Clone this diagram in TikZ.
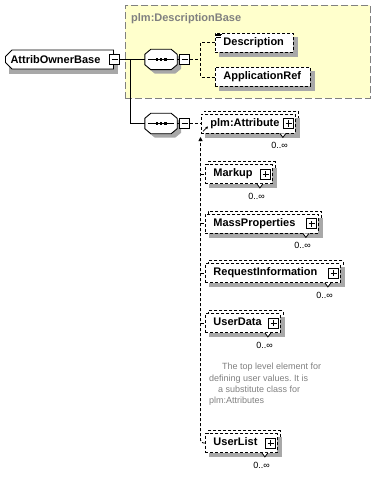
\documentclass[tikz,border=0pt]{standalone}
\usepackage{fontspec}
\setmainfont{Liberation Sans}
\usetikzlibrary{positioning,shapes.misc,arrows.meta}

\definecolor{groupfill}{RGB}{255,255,204}
\definecolor{groupline}{RGB}{128,128,128}
\definecolor{boxshade}{RGB}{168,168,168}
\definecolor{doctext}{RGB}{128,128,128}

\tikzset{
  conn/.style={line width=0.9pt},
  dconn/.style={line width=0.9pt, dash pattern=on 3pt off 2pt},
  elemgeom/.style={line width=0.9pt, inner xsep=8pt, inner ysep=0pt, minimum height=19pt,
    text height=8pt, text depth=2.5pt, align=left, anchor=west},
  elem/.style={elemgeom, draw, dash pattern=on 3pt off 2pt, fill=white, font=\fontsize{11}{13}\selectfont\bfseries},
  elemcopy/.style={elemgeom, draw, dash pattern=on 3pt off 2pt, fill=white, xshift=3pt, yshift=3pt},
  elemshade/.style={elemgeom, draw=boxshade, fill=boxshade, xshift=4pt, yshift=-4pt},
  owner/.style={chamfered rectangle, chamfered rectangle corners={north west,south west},
    chamfered rectangle xsep=3pt, draw, line width=0.9pt, fill=white,
    font=\fontsize{11}{13}\selectfont\bfseries, minimum width=108pt, minimum height=19pt,
    inner sep=0pt, anchor=west},
  ownershade/.style={owner, draw=boxshade, fill=boxshade, xshift=4pt, yshift=-4pt},
  seq/.style={minimum width=32pt, minimum height=20pt, inner sep=0pt},
  pmbox/.style={draw, solid, line width=0.8pt, fill=white, minimum width=10pt, minimum height=10pt, inner sep=0pt},
  minusbox/.style={pmbox, path picture={
      \draw[line width=0.8pt] ([xshift=2pt]path picture bounding box.west) -- ([xshift=-2pt]path picture bounding box.east);}},
  plusbox/.style={pmbox, path picture={
      \draw[line width=0.8pt] ([xshift=2pt]path picture bounding box.west) -- ([xshift=-2pt]path picture bounding box.east)
        ([yshift=2pt]path picture bounding box.south) -- ([yshift=-2pt]path picture bounding box.north);}},
  notch/.style={line width=0.8pt, fill=white},
  mult/.style={font=\fontsize{9}{11}\selectfont, inner sep=0pt},
  groupbox/.style={draw=groupline, fill=groupfill, dash pattern=on 7pt off 3pt, line width=0.9pt, inner sep=0pt},
  grouplabel/.style={font=\fontsize{11}{13}\selectfont\bfseries, text=groupline, inner sep=0pt},
  doc/.style={font=\fontsize{9}{11.3}\selectfont\frenchspacing, text=doctext, align=left, inner sep=0pt}
}

% element box with its shadow: name, position, text width, text
\newcommand{\elembox}[4]{%
  \node[elemshade, text width=#3] (#1-shade) at (#2) {};
  \node[elem, text width=#3] (#1) at (#2) {#4};
}
% repeated element box, with a copy behind it
\newcommand{\multibox}[4]{%
  \node[elemcopy, text width=#3] (#1-copy) at (#2) {};
  \node[elemshade, text width=#3] (#1-shade) at (#2) {};
  \node[elem, text width=#3] (#1) at (#2) {#4};
}
% octagon with the sequence symbol, drawn round a named node
\newcommand{\seqshape}[1]{%
  \fill[boxshade] ([xshift=4pt,yshift=-9pt]#1.north west) -- ([xshift=10pt,yshift=-4pt]#1.north west)
    -- ([xshift=-2pt,yshift=-4pt]#1.north east) -- ([xshift=4pt,yshift=-9pt]#1.north east) -- ([xshift=4pt,yshift=1pt]#1.south east)
    -- ([xshift=-2pt,yshift=-4pt]#1.south east) -- ([xshift=10pt,yshift=-4pt]#1.south west) -- ([xshift=4pt,yshift=1pt]#1.south west) -- cycle;
  \draw[conn, fill=white] ([yshift=-5pt]#1.north west) -- ([xshift=6pt]#1.north west)
    -- ([xshift=-6pt]#1.north east) -- ([yshift=-5pt]#1.north east) -- ([yshift=5pt]#1.south east)
    -- ([xshift=-6pt]#1.south east) -- ([xshift=6pt]#1.south west) -- ([yshift=5pt]#1.south west) -- cycle;
  \draw[conn] ([xshift=3pt]#1.west) -- ([xshift=-3pt]#1.east);
  \fill ([xshift=-5.5pt,yshift=-1.5pt]#1.center) rectangle ++(2.5pt,3pt);
  \fill ([xshift=-1.25pt,yshift=-1.5pt]#1.center) rectangle ++(2.5pt,3pt);
  \fill ([xshift=3pt,yshift=-1.5pt]#1.center) rectangle ++(2.5pt,3pt);
}

\begin{document}
\begin{tikzpicture}[x=1pt,y=-1pt]
    \useasboundingbox (0,0) rectangle (371,484);

    % Group of plm:DescriptionBase
    \node[groupbox, anchor=north west, minimum width=245pt, minimum height=93pt] (dbase) at (125,5) {};
    \node[grouplabel, anchor=west] (dbase-label) at (131,19) {plm:DescriptionBase};

    % Root element and sequences
    \node[ownershade] (owner-shade) at (5,59.5) {};
    \node[owner] (owner) at (5,59.5) {AttribOwnerBase\hspace*{8pt}};
    \node[minusbox] (owner-minus) at (114.5,59.5) {};
    \node[seq] (seqA) at (161,59.5) {};
    \seqshape{seqA}
    \node[minusbox, right=2pt of seqA] (seqA-minus) {};
    \node[seq] (seqB) at (161,123.5) {};
    \seqshape{seqB}
    \node[minusbox, right=2pt of seqB] (seqB-minus) {};

    % Elements of the base group
    \elembox{desc}{215,42.5}{62pt}{Description}
    \elembox{appref}{215,77}{79pt}{ApplicationRef}

    % Substitution group elements
    \multibox{attr}{201,123.5}{78pt}{\hspace*{1pt}plm:Attribute}
    \multibox{markup}{205,174}{51pt}{Markup}
    \multibox{mass}{205,223.5}{97pt}{MassProperties}
    \multibox{reqinfo}{205,273}{119pt}{RequestInformation}
    \multibox{udata}{205,323}{59pt}{UserData}
    \multibox{ulist}{205,443}{56pt}{UserList}

    % Expand boxes
    \node[plusbox, left=2pt of attr.east] (attr-plus) {};
    \node[plusbox, left=2pt of markup.east] (markup-plus) {};
    \node[plusbox, left=2pt of mass.east] (mass-plus) {};
    \node[plusbox, left=2pt of reqinfo.east] (reqinfo-plus) {};
    \node[plusbox, left=2pt of udata.east] (udata-plus) {};
    \node[plusbox, left=2pt of ulist.east] (ulist-plus) {};

    % Icons
    \draw[line width=0.6pt] ([xshift=1pt,yshift=-1.5pt]desc.north west) -- ++(6,0)
        ([xshift=1pt,yshift=-3.2pt]desc.north west) -- ++(5,0)
        ([xshift=1pt,yshift=-4.9pt]desc.north west) -- ++(5,0);
    \draw[line width=0.7pt, -{Triangle[length=2.5pt,width=2.5pt]}] ([xshift=2pt,yshift=2pt]attr.south west) -- ++(5,-5);

    % Solid connectors
    \coordinate (split) at (130.5,59.5);
    \draw[conn] (owner-minus.east) -- (seqA.west);
    \draw[conn] (split) |- (seqB.west);
    \draw[conn] (seqA.east) -- (seqA-minus.west);
    \draw[conn] (seqB.east) -- (seqB-minus.west);

    % Dashed connectors
    \coordinate (forkA) at (200.5,59.5);
    \draw[dconn] (seqA-minus.east) -- (forkA);
    \draw[dconn] (desc.west) -| (forkA) |- (appref.west);
    \draw[dconn] (seqB-minus.east) -- (attr.west);
    \coordinate (trunktop) at (200.5,137);
    \draw[dconn, rounded corners=3pt, -{Triangle[length=4pt,width=4pt]}] (ulist.west) -| (trunktop);
    \draw[dconn] (markup.west -| trunktop) -- (markup.west);
    \draw[dconn] (mass.west -| trunktop) -- (mass.west);
    \draw[dconn] (reqinfo.west -| trunktop) -- (reqinfo.west);
    \draw[dconn] (udata.west -| trunktop) -- (udata.west);

    % Occurrence marks
    \draw[notch] ([xshift=-16pt]attr.south east) -- ++(3,4) -- ++(3,-4);
    \draw[notch] ([xshift=-16pt]markup.south east) -- ++(3,4) -- ++(3,-4);
    \draw[notch] ([xshift=-16pt]mass.south east) -- ++(3,4) -- ++(3,-4);
    \draw[notch] ([xshift=-16pt]reqinfo.south east) -- ++(3,4) -- ++(3,-4);
    \draw[notch] ([xshift=-16pt]udata.south east) -- ++(3,4) -- ++(3,-4);
    \draw[notch] ([xshift=-16pt]ulist.south east) -- ++(3,4) -- ++(3,-4);
    \node[mult, below left=9pt and 8pt of attr.south east] (attr-mult) {0..∞};
    \node[mult, below left=9pt and 8pt of markup.south east] (markup-mult) {0..∞};
    \node[mult, below left=9pt and 8pt of mass.south east] (mass-mult) {0..∞};
    \node[mult, below left=9pt and 8pt of reqinfo.south east] (reqinfo-mult) {0..∞};
    \node[mult, below left=9pt and 8pt of udata.south east] (udata-mult) {0..∞};
    \node[mult, below left=9pt and 8pt of ulist.south east] (ulist-mult) {0..∞};

    % Documentation of UserData
    \node[doc, anchor=north west] (udata-doc) at (209,363) {\hspace*{13pt}The top level element for\\defining user values. It is\\\hspace*{9pt}a substitute class for\\plm:Attributes};
\end{tikzpicture}
\end{document}
